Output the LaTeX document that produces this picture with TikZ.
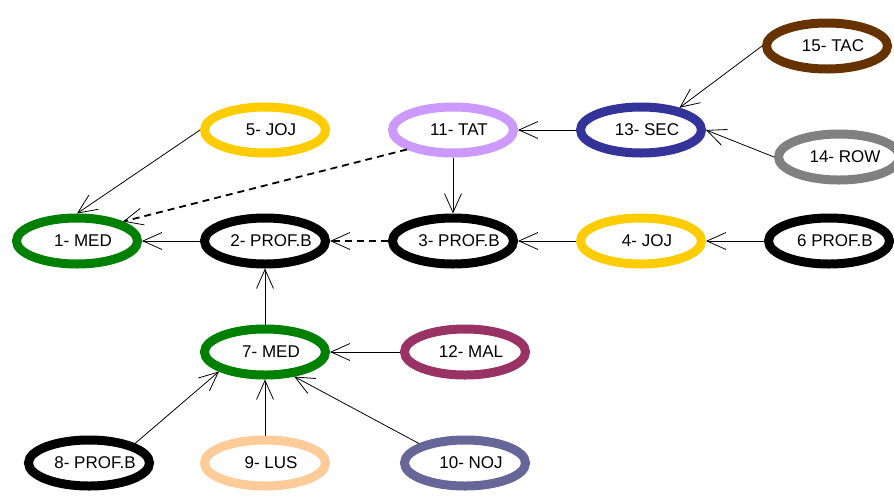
\documentclass[tikz,border=0pt]{standalone}
\usepackage{fontspec}
\setmainfont{Liberation Sans}
\usetikzlibrary{arrows.meta,shapes.geometric,positioning}
\definecolor{medColor}{RGB}{0,128,0}
\definecolor{jojColor}{RGB}{255,204,0}
\definecolor{tatColor}{RGB}{204,153,255}
\definecolor{secColor}{RGB}{51,51,153}
\definecolor{tacColor}{RGB}{102,51,0}
\definecolor{rowColor}{RGB}{128,128,128}
\definecolor{malColor}{RGB}{153,51,102}
\definecolor{lusColor}{RGB}{255,204,153}
\definecolor{nojColor}{RGB}{102,102,153}
\newcommand{\actortext}[1]{\hspace*{12pt}\makebox[0pt]{#1}}
\tikzset{actor/.style={ellipse, draw, line width=9pt, minimum width=121pt, minimum height=46pt, font=\fontsize{17}{20}\selectfont}}
\tikzset{link/.style={line width=.8pt, -{Straight Barb[length=19pt, width=17pt, line width=.8pt]}}}
\tikzset{dashlink/.style={link, line width=1.8pt, dash pattern=on 7pt off 5pt}}

\begin{document}
\begin{tikzpicture}[x=1pt, y=-1pt, node distance=56pt and 58pt]
	\useasboundingbox (0,0) rectangle (894,496);
	% Nodes
		\node (med1) [actor, draw=medColor] at (77,241) {\actortext{1- MED}};
		\node (profb2) [actor, right=of med1] {\actortext{2- PROF.B}};
		\node (profb3) [actor, right=of profb2] {\actortext{3- PROF.B}};
		\node (joj4) [actor, draw=jojColor, right=of profb3] {\actortext{4- JOJ}};
		\node (profb6) [actor, right=of joj4] {\actortext{6 PROF.B}};
		
		\node (joj5) [actor, draw=jojColor, above=of profb2] {\actortext{5- JOJ}};
		\node (tat11) [actor, draw=tatColor, above=of profb3] {\actortext{11- TAT}};
		\node (sec13) [actor, draw=secColor, above=of joj4] {\actortext{13- SEC}};
		\node (tac15) [actor, draw=tacColor] at (827,46) {\actortext{15- TAC}};
		\node (row14) [actor, draw=rowColor] at (839,157) {\actortext{14- ROW}};
		
		\node (med7) [actor, draw=medColor, below=of profb2] {\actortext{7- MED}};
		\node (mal12) [actor, draw=malColor, right=of med7, xshift=12pt] {\actortext{12- MAL}};
		\node (lus9) [actor, draw=lusColor, below=of med7] {\actortext{9- LUS}};
		\node (profb8) [actor, left=of lus9, xshift=12pt] {\actortext{8- PROF.B}};
		\node (noj10) [actor, draw=nojColor, below=of mal12] {\actortext{10- NOJ}};
		
		% Connectors
		\draw [link] (joj5.west) -- (med1.north);
		\draw [dashlink] (tat11.south west) -- (med1.north east);
		\draw [link] (profb2.west) -- (med1.east);
		\draw [dashlink] (profb3.west) -- (profb2.east);
		\draw [link] (tat11.south) -- (profb3.north);
		\draw [link] (joj4.west) -- (profb3.east);
		\draw [link] (profb6.west) -- (joj4.east);
		\draw [link] (sec13.west) -- (tat11.east);
		\draw [link] (tac15.west) -- (sec13.30);
		\draw [link] (row14.west) -- (sec13.east);
		\draw [link] (med7.north) -- (profb2.south);
		\draw [link] (mal12.west) -- (med7.east);
		\draw [link] (profb8.north east) -- (med7.south west);
		\draw [link] (lus9.north) -- (med7.south);
		\draw [link] (noj10.north west) -- (med7.-40);

\end{tikzpicture}
\end{document}
